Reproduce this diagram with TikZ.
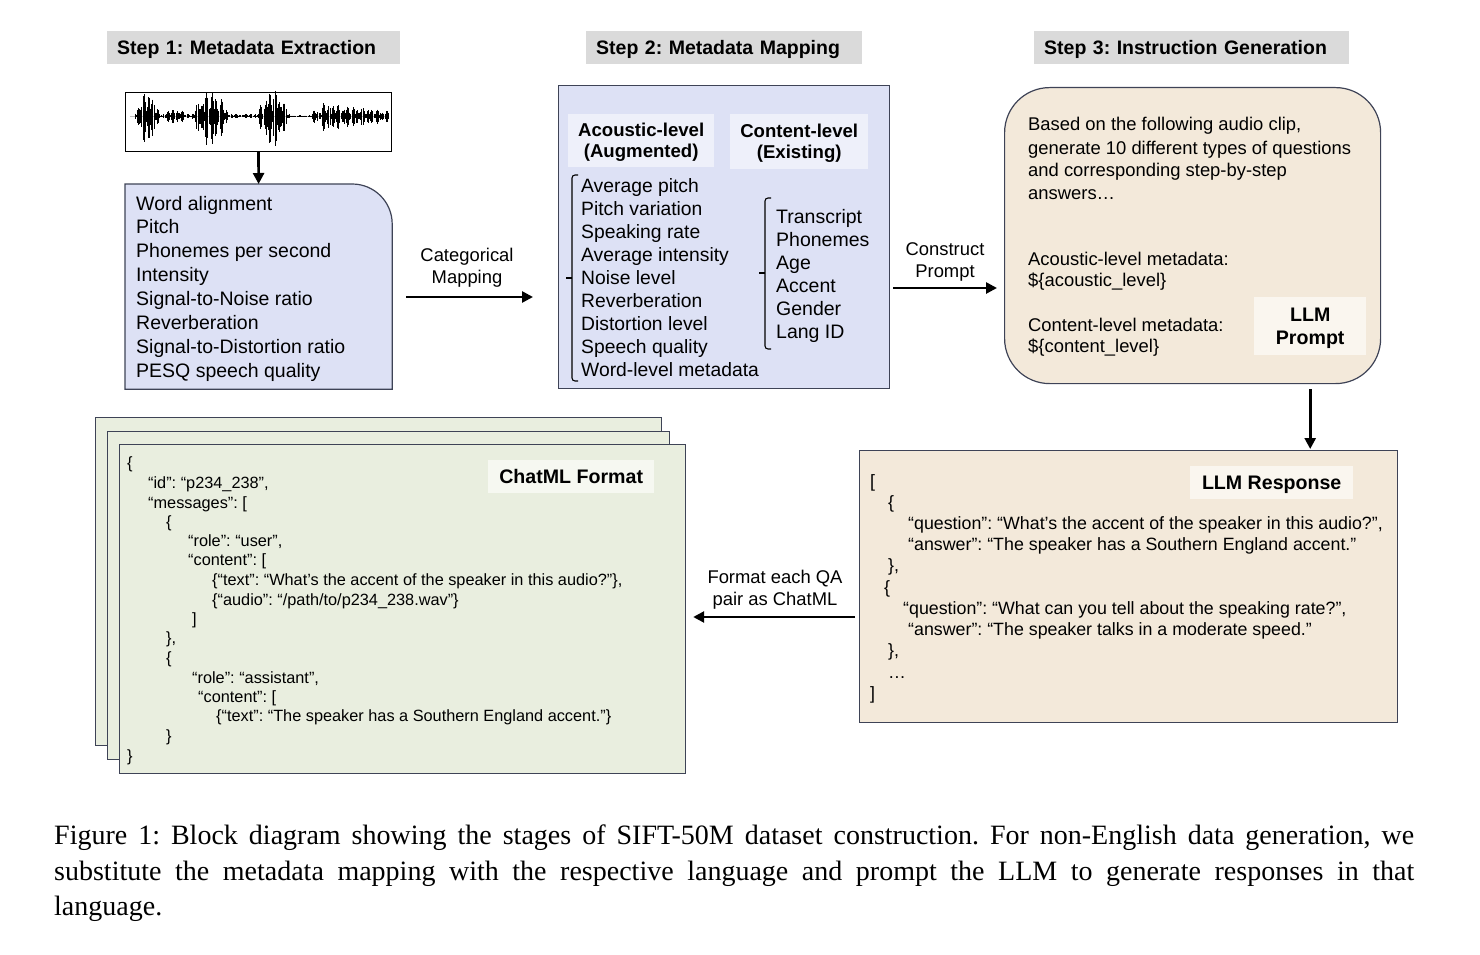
\documentclass[tikz,border=0pt]{standalone}
\usepackage{fontspec}
\setmainfont{Liberation Sans}
\newfontfamily\capfont{Liberation Serif}
\usetikzlibrary{arrows.meta,calc}
\frenchspacing

\definecolor{hdrgray}{HTML}{DADADA}
\definecolor{bluefill}{HTML}{DDE1F5}
\definecolor{bluetag}{HTML}{EEF0FA}
\definecolor{beigefill}{HTML}{F3E9DA}
\definecolor{beigetag}{HTML}{FAF6EF}
\definecolor{greenfill}{HTML}{E9EEDF}
\definecolor{greentag}{HTML}{F6F8F1}
\definecolor{edge}{HTML}{3E4356}

\tikzset{
  header/.style={fill=hdrgray, inner xsep=10pt, inner ysep=0pt, anchor=north west,
    align=left, minimum height=33pt, text depth=0pt, font=\bfseries\fontsize{19.5}{23}\selectfont},
  panel/.style={draw=edge, line width=1.2pt, inner sep=0pt, anchor=north west},
  tagbox/.style={inner sep=0pt, anchor=north west, align=center, text depth=0pt,
    font=\bfseries\fontsize{19.6}{23}\selectfont},
  item/.style={anchor=base west, inner sep=0pt, font=\fontsize{19.5}{23}\selectfont},
  prompttxt/.style={anchor=base west, inner sep=0pt, font=\fontsize{18.4}{22}\selectfont},
  resptxt/.style={anchor=base west, inner sep=0pt, font=\fontsize{17.8}{21}\selectfont},
  jsontxt/.style={anchor=base west, inner sep=0pt, font=\fontsize{16.3}{19}\selectfont},
  arrowlbl/.style={inner sep=0pt, align=center, font=\fontsize{18.4}{22}\selectfont},
  flow/.style={line width=2.6pt, -{Triangle[length=11pt,width=11pt]}},
  bracket/.style={line width=1.1pt, rounded corners=3pt},
}

\begin{document}
\begin{tikzpicture}[x=1pt,y=-1pt]
\useasboundingbox (0,0) rectangle (1480,955);

% step headers
\node[header, text width=273pt] (h1) at (107,31) {Step 1: Metadata Extraction};
\node[header, text width=256pt] (h2) at (586,31) {Step 2: Metadata Mapping};
\node[header, text width=295pt] (h3) at (1034,31) {Step 3: Instruction Generation};

% waveform
\node[panel, draw=black, line width=1pt, fill=white, minimum width=266pt, minimum height=59pt] (wave) at (125,92) {};
\draw[gray!50, line width=0.6pt] (130,116) -- (389,116);
\foreach \x in {134,135.1,...,389} {
  \pgfmathsetmacro{\env}{(\x<160)*25*sin((\x-134)*6.9)
    + (\x>=160)*(\x<191)*7*sin((\x-160)*5.8)
    + (\x>=191)*(\x<230)*26*sin((\x-191)*4.6)
    + (\x>=230)*(\x<256)*2
    + (\x>=256)*(\x<290)*27*sin((\x-256)*5.3)
    + (\x>=290)*(\x<312)*0.6
    + (\x>=312)*(\x<322)*6
    + (\x>=322)*(13-(\x-322)*0.12)}
  \pgfmathsetmacro{\r}{0.15+0.85*abs(sin(\x*37))*abs(sin(\x*23+40))^0.5}
  \draw[line width=0.45pt] (\x,{116-\env*\r}) -- (\x,{116+1.2*\env*\r});
}

% step 1 box
\node[panel, draw=none, minimum width=266pt, minimum height=204pt] (feat) at (125,184) {};
\draw[draw=edge, line width=1.2pt, fill=bluefill] (feat.south west) -- (feat.north west)
  -- ([xshift=-40pt]feat.north east) arc[start angle=90, end angle=0, radius=40pt]
  -- (feat.south east) -- cycle;
\foreach \t [count=\i] in {Word alignment, Pitch, Phonemes per second, Intensity,
  Signal-to-Noise ratio, Reverberation, Signal-to-Distortion ratio, PESQ speech quality}
  \node[item] (f\i) at (136,{210+23.86*(\i-1)}) {\t};

% step 2 box
\node[panel, fill=bluefill, minimum width=331pt, minimum height=303pt] (map) at (558,85) {};
\node[tagbox, fill=bluetag, minimum width=146pt, minimum height=53pt,
  font=\bfseries\fontsize{18.6}{21}\selectfont] (acou) at (568,114) {Acoustic-level\\(Augmented)};
\node[tagbox, fill=bluetag, minimum width=138pt, minimum height=55pt,
  font=\bfseries\fontsize{18.6}{21}\selectfont] (cont) at (730,114) {Content-level\\(Existing)};
\draw[bracket] (578,175) -- (572,175) -- (572,381) -- (578,381);
\draw[line width=1.1pt] (572,278) -- (566,278);
\foreach \t [count=\i] in {Average pitch, Pitch variation, Speaking rate, Average intensity,
  Noise level, Reverberation, Distortion level, Speech quality, Word-level metadata}
  \node[item, font=\fontsize{19.3}{23}\selectfont] (a\i) at (581,{192+23.1*(\i-1)}) {\t};
\draw[bracket] (771,198) -- (765,198) -- (765,349) -- (771,349);
\draw[line width=1.1pt] (765,273) -- (759,273);
\foreach \t [count=\i] in {Transcript, Phonemes, Age, Accent, Gender, Lang ID}
  \node[item] (c\i) at (776,{223+23*(\i-1)}) {\t};

% step 3 box
\node[panel, fill=beigefill, rounded corners=45pt, minimum width=376pt, minimum height=296pt] (prompt) at (1004,87) {};
\foreach \y/\t in {131/{Based on the following audio clip,},
  154/{generate 10 different types of questions},
  176/{and corresponding step-by-step},
  199/{answers…},
  265/{Acoustic-level metadata:},
  286/{\$\{acoustic\_level\}},
  331/{Content-level metadata:},
  352/{\$\{content\_level\}}}
  \node[prompttxt] (p\y) at (1028,\y) {\t};
\node[tagbox, fill=beigetag, minimum width=112pt, minimum height=58pt] (llmtag) at (1254,297) {LLM\\Prompt};

% response box
\node[panel, fill=beigefill, minimum width=538pt, minimum height=272pt] (resp) at (859,450) {};
\node[tagbox, fill=beigetag, minimum width=163pt, minimum height=33pt] (resptag) at (1190,466) {LLM Response};
\foreach \x/\y/\t in {870/487/{[}, 888/508/{\{},
  908/529/{“question”: “What’s the accent of the speaker in this audio?”,},
  908/550/{“answer”: “The speaker has a Southern England accent.”},
  888/571/{\},}, 884/593/{\{},
  903/614/{“question”: “What can you tell about the speaking rate?”,},
  908/635/{“answer”: “The speaker talks in a moderate speed.”},
  888/656/{\},}, 888/678/{…}, 870/699/{]}}
  \node[resptxt] (r\y) at (\x,\y) {\t};

% chatml pages
\node[panel, fill=greenfill, minimum width=566pt, minimum height=328pt] (page1) at (95,417) {};
\node[panel, fill=greenfill, minimum width=562pt, minimum height=328pt] (page2) at (107,431) {};
\node[panel, fill=greenfill, minimum width=566pt, minimum height=329pt] (chat) at (119,444) {};
\node[tagbox, fill=greentag, minimum width=166pt, minimum height=33pt] (chattag) at (488,460) {ChatML Format};
\foreach \x/\y/\t in {127/468/{\{}, 148/488/{“id”: “p234\_238”,}, 148/508/{“messages”: [},
  166/527/{\{}, 188/546/{“role”: “user”,}, 188/565/{“content”: [},
  212/585/{\{“text”: “What’s the accent of the speaker in this audio?”\},},
  212/605/{\{“audio”: “/path/to/p234\_238.wav”\}},
  192/624/{]}, 166/643/{\},}, 166/663/{\{},
  192/683/{“role”: “assistant”,}, 198/702/{“content”: [},
  216/721/{\{“text”: “The speaker has a Southern England accent.”\}},
  166/741/{\}}, 127/761/{\}}}
  \node[jsontxt] (j\y) at (\x,\y) {\t};

% connectors
\draw[flow] (wave.south) -- (feat.north);
\coordinate (catY) at (0,297);
\draw[flow, shorten <=14pt, shorten >=25pt] (feat.east |- catY) -- (map.west |- catY);
\node[arrowlbl] (catlbl) at (467,268) {Categorical\\Mapping};
\coordinate (conY) at (0,288);
\draw[flow, shorten <=3pt, shorten >=7pt] (map.east |- conY) -- (prompt.west |- conY);
\node[arrowlbl] (conlbl) at (945,262) {Construct\\Prompt};
\draw[flow, shorten <=5pt, shorten >=1pt] (llmtag |- prompt.south) -- (llmtag |- resp.north);
\coordinate (fmtY) at (0,617);
\draw[flow, shorten <=4pt, shorten >=7pt] (resp.west |- fmtY) -- (chat.east |- fmtY);
\node[arrowlbl] (fmtlbl) at (775,590) {Format each QA\\pair as ChatML};

% caption
\node[anchor=north west, text width=1360pt, align=justify, inner sep=0pt,
  font=\capfont\fontsize{28}{35.5}\selectfont] (cap) at (54,825)
  {Figure 1: Block diagram showing the stages of SIFT-50M dataset construction. For non-English data generation, we\linebreak
   substitute the metadata mapping with the respective language and prompt the LLM to generate responses in that\linebreak
   language.};
\end{tikzpicture}
\end{document}
